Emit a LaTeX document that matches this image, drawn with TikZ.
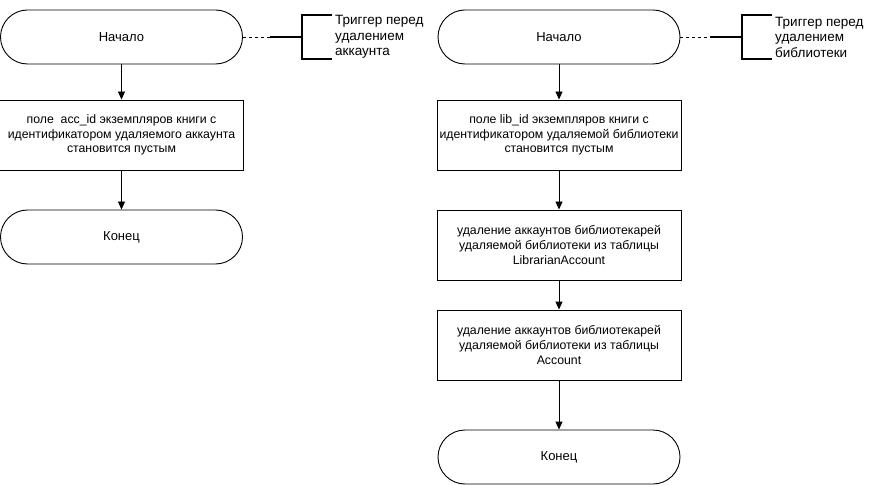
\documentclass[tikz,border=0pt]{standalone}
\usepackage{fontspec}
\setmainfont{Liberation Sans}
\usetikzlibrary{arrows.meta}
\begin{document}
\begin{tikzpicture}[x=1pt,y=-1pt,
  term/.style={draw, line width=0.9pt, rounded corners=27pt, minimum width=242pt, minimum height=54pt, inner sep=0pt, font=\fontsize{13}{15}\selectfont},
  procbox/.style={draw, line width=0.9pt, minimum width=244pt, minimum height=70pt, inner sep=0pt, align=center, font=\fontsize{12.3}{14.8}\selectfont},
  flow/.style={draw, line width=0.9pt, -{Triangle[length=8pt,width=7pt]}},
  note/.style={anchor=west, align=left, inner sep=0pt, font=\fontsize{13.5}{15.5}\selectfont},
  brk/.style={draw, line width=1.8pt},
  link/.style={draw, line width=0.8pt, dash pattern=on 3pt off 3pt}
]
\useasboundingbox (0,0) rectangle (875,486);

% left flow
\node[term] (s1) at (121.5,37) {Начало};
\node[procbox] (a1) at (121.5,135) {поле\ \ acc\_id экземпляров книги с\\идентификатором удаляемого аккаунта\\становится пустым};
\node[term] (e1) at (121.5,237) {Конец};
\draw[flow] (s1) -- (a1);
\draw[flow] (a1) -- (e1);

% left annotation
\coordinate (l1) at (270,37);
\coordinate (l1m) at (302,37);
\coordinate (l1t) at (332,15);
\coordinate (l1tc) at (302,15);
\coordinate (l1b) at (332,59);
\coordinate (l1bc) at (302,59);
\draw[link] (s1.east) -- (l1);
\draw[brk] (l1) -- (l1m);
\draw[brk] (l1t) -- (l1tc) -- (l1bc) -- (l1b);
\node[note] (n1) at (335,37) {Триггер перед\\удалением\\аккаунта};

% right flow
\node[term] (s2) at (559,37) {Начало};
\node[procbox] (b1) at (559,135) {поле lib\_id экземпляров книги с\\идентификатором удаляемой библиотеки\\становится пустым};
\node[procbox] (b2) at (559,245) {удаление аккаунтов библиотекарей\\удаляемой библиотеки из таблицы\\LibrarianAccount};
\node[procbox] (b3) at (559,345) {удаление аккаунтов библиотекарей\\удаляемой библиотеки из таблицы\\Account};
\node[term] (e2) at (559,457) {Конец};
\draw[flow] (s2) -- (b1);
\draw[flow] (b1) -- (b2);
\draw[flow] (b2) -- (b3);
\draw[flow] (b3) -- (e2);

% right annotation
\coordinate (l2) at (710,37);
\coordinate (l2m) at (742,37);
\coordinate (l2t) at (772,15);
\coordinate (l2tc) at (742,15);
\coordinate (l2b) at (772,59);
\coordinate (l2bc) at (742,59);
\draw[link] (s2.east) -- (l2);
\draw[brk] (l2) -- (l2m);
\draw[brk] (l2t) -- (l2tc) -- (l2bc) -- (l2b);
\node[note] (n2) at (775,37) {Триггер перед\\удалением\\библиотеки};
\end{tikzpicture}
\end{document}
